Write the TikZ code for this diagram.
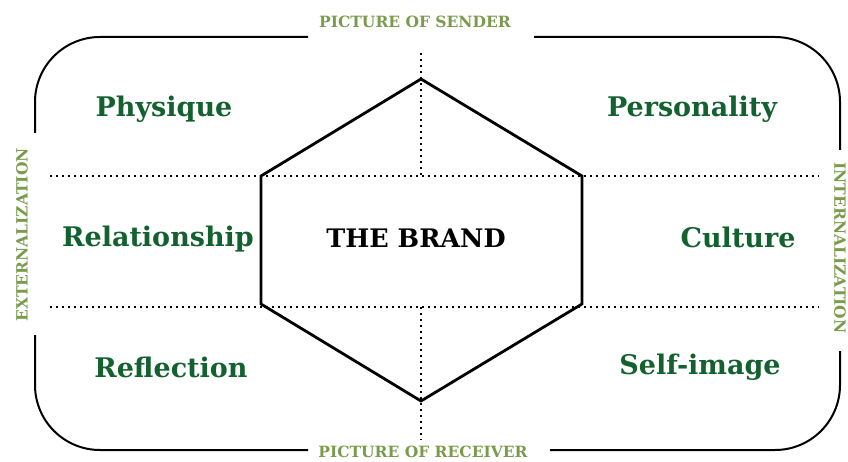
\documentclass[tikz,border=0pt]{standalone}
\usepackage{fontspec}
\setmainfont{DejaVu Serif}
\definecolor{dkgreen}{HTML}{12612F}
\definecolor{olive}{HTML}{7A9A4C}
\begin{document}
\begin{tikzpicture}[x=1pt,y=-1pt,
  frame/.style={line width=2pt, rounded corners=65pt},
  hexline/.style={line width=2.8pt, line join=miter},
  dotline/.style={line width=1.7pt, dash pattern=on 1.7pt off 4.3pt},
  facet/.style={text=dkgreen, font=\fontsize{27}{30}\selectfont\bfseries, inner sep=0pt},
  axis/.style={text=olive, font=\fontsize{15.5}{18}\selectfont\bfseries, inner sep=0pt}]
\useasboundingbox (0,0) rectangle (848,462);
% frame
\draw[frame] (35,133) -- (35,37) -- (308,37);
\draw[frame] (534,37) -- (840,37) -- (840,150);
\draw[frame] (840,351) -- (840,450) -- (550,450);
\draw[frame] (308,450) -- (35,450) -- (35,335);
% dotted grid
\coordinate (hl1) at (50,176); \coordinate (hr1) at (819,176);
\coordinate (hl2) at (50,307); \coordinate (hr2) at (819,307);
\coordinate (vt) at (421,53); \coordinate (vm1) at (421,176);
\coordinate (vm2) at (421,307); \coordinate (vb) at (421,440);
\draw[dotline] (hl1) -- (hr1);
\draw[dotline] (hl2) -- (hr2);
\draw[dotline] (vt) -- (vm1);
\draw[dotline] (vm2) -- (vb);
% hexagon
\coordinate (ht) at (421,79);
\coordinate (hur) at (582,176);
\coordinate (hlr) at (582,304);
\coordinate (hb) at (421,401);
\coordinate (hll) at (261,304);
\coordinate (hul) at (261,176);
\draw[hexline] (ht) -- (hur) -- (hlr) -- (hb) -- (hll) -- (hul) -- cycle;
% labels
\node[facet] (physique) at (164,109) {Physique};
\node[facet] (personality) at (692,109) {Personality};
\node[facet] (relationship) at (158,239) {Relationship};
\node[facet] (culture) at (738,237) {Culture};
\node[facet] (reflection) at (171,367) {Reflection};
\node[facet] (selfimage) at (700,367) {Self-image};
\node[facet, text=black, font=\fontsize{25.5}{28}\selectfont\bfseries] (brand) at (416,238) {THE BRAND};
\node[axis] (sender) at (415,22) {PICTURE OF SENDER};
\node[axis] (receiver) at (423,452) {PICTURE OF RECEIVER};
\node[axis, rotate=90] (ext) at (22,235) {EXTERNALIZATION};
\node[axis, rotate=-90] (int) at (840,248) {INTERNALIZATION};
\end{tikzpicture}
\end{document}
